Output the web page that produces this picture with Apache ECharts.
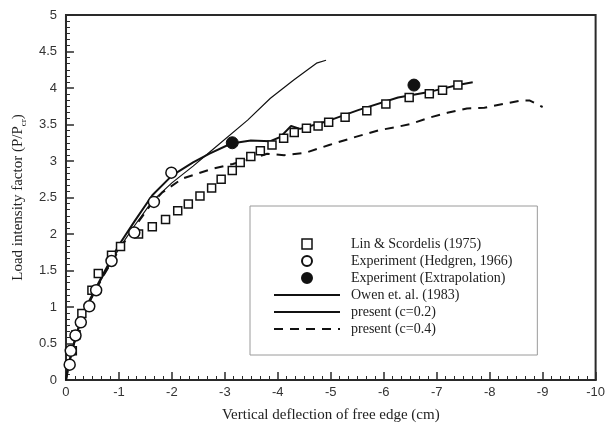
<!DOCTYPE html>
<html>
<head>
<meta charset="utf-8">
<script src="https://cdn.jsdelivr.net/npm/echarts@6/dist/echarts.min.js"></script>
<style>
  html, body { margin: 0; padding: 0; background: #fff; }
  #chart { width: 608px; height: 428px; }
</style>
</head>
<body>
<div id="chart"></div>
<script>
// Load intensity factor vs. vertical deflection of the free edge

// Lin & Scordelis (1975)
const linX = [-0.12, -0.19, -0.30, -0.49, -0.61, -0.86, -1.03, -1.37, -1.63, -1.88, -2.11, -2.31, -2.53, -2.75, -2.93, -3.14,
              -3.29, -3.49, -3.67, -3.89, -4.11, -4.31, -4.54, -4.76, -4.96, -5.27, -5.68, -6.04, -6.48, -6.86, -7.11, -7.40];
const linY = [0.40, 0.62, 0.91, 1.23, 1.46, 1.71, 1.83, 2.00, 2.10, 2.20, 2.32, 2.41, 2.52, 2.63, 2.75, 2.87,
              2.98, 3.06, 3.14, 3.22, 3.31, 3.39, 3.45, 3.48, 3.53, 3.60, 3.69, 3.78, 3.87, 3.92, 3.97, 4.04];

// Experiment (Hedgren, 1966)
const hedX = [-0.07, -0.09, -0.18, -0.28, -0.44, -0.57, -0.86, -1.29, -1.66, -1.99];
const hedY = [0.21, 0.40, 0.61, 0.79, 1.01, 1.23, 1.63, 2.02, 2.44, 2.84];

// Experiment (Extrapolation)
const extX = [-3.14, -6.57];
const extY = [3.25, 4.04];

// Owen et. al. (1983)
const owenX = [0, -0.05, -0.12, -0.25, -0.45, -0.70, -1.00, -1.30, -1.63, -2.00, -2.40, -2.71, -3.43, -3.86, -4.30, -4.73, -4.91];
const owenY = [0, 0.20, 0.42, 0.75, 1.08, 1.42, 1.80, 2.12, 2.45, 2.70, 2.93, 3.12, 3.56, 3.86, 4.11, 4.34, 4.38];

// present (c=0.2)
const c02X = [0, -0.05, -0.12, -0.25, -0.45, -0.70, -1.00, -1.30, -1.63, -2.00, -2.40, -2.71, -3.12, -3.49, -3.86, -4.05, -4.25, -4.42,
              -4.91, -5.53, -6.27, -6.88, -7.40, -7.68];
const c02Y = [0, 0.20, 0.42, 0.75, 1.10, 1.45, 1.85, 2.18, 2.53, 2.80, 2.98, 3.10, 3.24, 3.28, 3.27, 3.33, 3.48, 3.44,
              3.54, 3.70, 3.87, 3.95, 4.04, 4.08];

// present (c=0.4)
const c04X = [0, -0.05, -0.12, -0.25, -0.45, -0.70, -1.00, -1.30, -1.60, -1.82, -2.20, -2.75, -3.15, -3.50, -3.80, -4.12, -4.51,
              -4.97, -5.47, -5.90, -6.27, -6.52, -6.89, -7.20, -7.57, -7.90, -8.25, -8.60, -8.75, -9.00];
const c04Y = [0, 0.20, 0.42, 0.74, 1.08, 1.42, 1.78, 2.10, 2.40, 2.57, 2.76, 2.89, 2.96, 3.03, 3.10, 3.08, 3.11,
              3.22, 3.33, 3.42, 3.47, 3.51, 3.60, 3.66, 3.72, 3.73, 3.78, 3.83, 3.83, 3.74];

const seriesNames = ['Lin & Scordelis (1975)', 'Experiment (Hedgren, 1966)', 'Experiment (Extrapolation)',
                     'Owen et. al. (1983)', 'present (c=0.2)', 'present (c=0.4)'];

const zip = (xs, ys) => xs.map((x, i) => [x, ys[i]]);

const INK = '#111';
const AXIS = '#2a2a2a';
const serif = '"Liberation Serif", "Times New Roman", serif';
const sans = '"Liberation Sans", Arial, sans-serif';

// legend entries: small square / circles for the point sets, bare strokes for the curves
const legendData = [
  { name: seriesNames[0], icon: 'path://M0,0H10V10H0Z', itemStyle: { color: '#fff', borderColor: INK, borderWidth: 1.5, opacity: 1 } },
  { name: seriesNames[1] },
  { name: seriesNames[2] },
  { name: seriesNames[3], itemStyle: { opacity: 0 } },
  { name: seriesNames[4], itemStyle: { opacity: 0 } },
  { name: seriesNames[5], itemStyle: { opacity: 0 } }
];

const chart = echarts.init(document.getElementById('chart'), null, { renderer: 'canvas' });

chart.setOption({
  animation: false,
  backgroundColor: '#fff',
  grid: {
    left: 62, right: 7, top: 15, bottom: 48,
    show: true, borderColor: AXIS, borderWidth: 2, backgroundColor: 'transparent'
  },
  legend: {
    orient: 'vertical',
    left: 250, top: 206,
    padding: [31, 25, 19, 23],
    borderColor: '#9a9a9a', borderWidth: 1,
    itemWidth: 66, itemHeight: 10, itemGap: 3,
    symbolKeepAspect: true,
    textStyle: { fontFamily: serif, fontSize: 14, color: '#222', padding: [0, 0, 0, 6] },
    data: legendData
  },
  xAxis: {
    type: 'value', min: -10, max: 0, interval: 1, inverse: true,
    name: 'Vertical deflection of free edge (cm)',
    nameLocation: 'middle', nameGap: 28,
    nameTextStyle: { fontFamily: serif, fontSize: 15, color: '#222' },
    axisLine: { show: true, onZero: false, lineStyle: { color: AXIS, width: 2 } },
    axisTick: { show: true, inside: true, length: 8, lineStyle: { color: AXIS, width: 1.5 } },
    minorTick: { show: true, splitNumber: 6, length: 4, lineStyle: { color: AXIS, width: 1 } },
    axisLabel: { fontFamily: sans, fontSize: 13, color: '#333', margin: 6 },
    splitLine: { show: false }
  },
  yAxis: {
    type: 'value', min: 0, max: 5, interval: 0.5,
    name: 'Load intensity factor (P/P{sub|cr})',
    nameLocation: 'middle', nameGap: 30, nameRotate: 90,
    nameTextStyle: {
      fontFamily: serif, fontSize: 15, color: '#222', lineHeight: 20,
      rich: { sub: { fontFamily: serif, fontSize: 9, color: '#222', lineHeight: 9, verticalAlign: 'bottom' } }
    },
    axisLine: { show: true, onZero: false, lineStyle: { color: AXIS, width: 2 } },
    axisTick: { show: true, inside: true, length: 8, lineStyle: { color: AXIS, width: 1.5 } },
    minorTick: { show: true, splitNumber: 6, length: 4, lineStyle: { color: AXIS, width: 1 } },
    axisLabel: { fontFamily: sans, fontSize: 13, color: '#333', margin: 9 },
    splitLine: { show: false }
  },
  series: [
    {
      name: seriesNames[3], type: 'line', data: zip(owenX, owenY), symbol: 'none', z: 2,
      lineStyle: { color: INK, width: 1.2 }, itemStyle: { color: INK }
    },
    {
      name: seriesNames[4], type: 'line', data: zip(c02X, c02Y), symbol: 'none', z: 2,
      lineStyle: { color: INK, width: 2 }, itemStyle: { color: INK }
    },
    {
      name: seriesNames[5], type: 'line', data: zip(c04X, c04Y), symbol: 'none', z: 2,
      lineStyle: { color: INK, width: 2, type: [9, 7] }, itemStyle: { color: INK }
    },
    {
      name: seriesNames[0], type: 'scatter', data: zip(linX, linY), symbol: 'rect', symbolSize: 8, z: 3,
      itemStyle: { color: '#fff', borderColor: INK, borderWidth: 1.5, opacity: 1 }
    },
    {
      name: seriesNames[1], type: 'scatter', data: zip(hedX, hedY), symbol: 'circle', symbolSize: 11, z: 3,
      itemStyle: { color: '#fff', borderColor: INK, borderWidth: 1.5, opacity: 1 }
    },
    {
      name: seriesNames[2], type: 'scatter', data: zip(extX, extY), symbol: 'circle', symbolSize: 12, z: 4,
      itemStyle: { color: INK, borderColor: INK, borderWidth: 1, opacity: 1 }
    }
  ]
});
</script>
</body>
</html>
